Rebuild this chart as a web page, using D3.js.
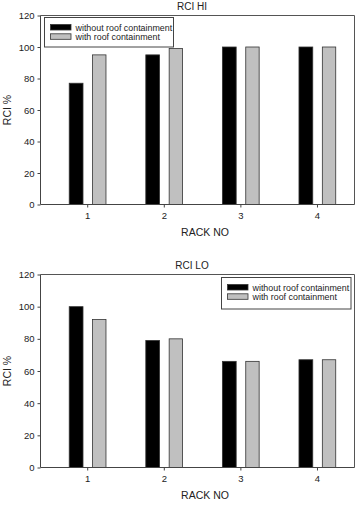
<!DOCTYPE html>
<html><head><meta charset="utf-8">
<script src="https://cdn.jsdelivr.net/npm/d3@7"></script>
<style>body{margin:0;background:#fff}svg{display:block}text{font-family:"Liberation Sans",Arial,sans-serif;fill:#222}</style>
</head><body>
<script>
const racks = [1, 2, 3, 4];
const seriesNames = ["without roof containment", "with roof containment"];
const hiWithout = [77, 95, 100, 100];
const hiWith = [95, 99, 100, 100];
const loWithout = [100, 79, 66, 67];
const loWith = [92, 80, 66, 67];
const yTicks = [0, 20, 40, 60, 80, 100, 120];
const colors = ["#000000", "#c0c0c0"];

const W = 356, H = 505;
const svg = d3.select("body").append("svg").attr("width", W).attr("height", H);

function panel(cfg) {
  const left = 40.5, right = 354.5, top = cfg.top, bottom = cfg.bottom;
  const x = d3.scaleLinear().domain([0.39, 4.49]).range([left, right]);
  const y = d3.scaleLinear().domain([0, 120]).range([bottom, top]);
  const g = svg.append("g");
  // frame top/right
  g.append("path").attr("d", `M${left},${top}H${right}V${bottom}`).attr("fill", "none").attr("stroke", "#555").attr("stroke-width", 1);
  // bars
  const off = [[-0.235, 0.18], [0.07, 0.175]];
  [cfg.a, cfg.b].forEach((vals, si) => {
    g.selectAll(null).data(racks).enter().append("rect")
      .attr("x", d => x(d + off[si][0]))
      .attr("width", d => x(d + off[si][0] + off[si][1]) - x(d + off[si][0]))
      .attr("y", (d, i) => y(vals[i]))
      .attr("height", (d, i) => y(0) - y(vals[i]))
      .attr("fill", colors[si]).attr("stroke", "#333").attr("stroke-width", 0.8);
  });
  // axes
  const ya = g.append("g").attr("transform", `translate(${left},0)`)
    .call(d3.axisLeft(y).tickValues(yTicks).tickSize(3).tickPadding(3));
  const xa = g.append("g").attr("transform", `translate(0,${bottom})`)
    .call(d3.axisBottom(x).tickValues(racks).tickSize(3).tickPadding(5).tickFormat(d3.format("d")));
  [ya, xa].forEach(a => {
    a.select(".domain").attr("stroke", "#444");
    a.selectAll(".tick line").attr("stroke", "#444");
    a.selectAll("text").style("font-size", "9.5px").attr("fill", "#222").style("font-family", '"Liberation Sans",Arial,sans-serif');
  });
  ya.select(".domain").attr("d", `M0,${bottom}V${top}`);
  xa.select(".domain").attr("d", `M${left},0H${right}`);
  // title
  g.append("text").attr("x", 192).attr("y", top - 6).attr("text-anchor", "middle").style("font-size", "10px").text(cfg.title);
  g.append("text").attr("x", 205).attr("y", bottom + 31).attr("text-anchor", "middle").style("font-size", "10.5px").text("RACK NO");
  g.append("text").attr("transform", `translate(11,${(top + bottom) / 2}) rotate(-90)`).attr("text-anchor", "middle").style("font-size", "10.5px").text("RCI %");
  // legend
  const L = cfg.legend;
  g.append("rect").attr("x", L.x).attr("y", L.y).attr("width", L.w).attr("height", L.h)
    .attr("fill", "#fff").attr("stroke", "#444").attr("stroke-width", 1);
  seriesNames.forEach((s, i) => {
    g.append("rect").attr("x", L.x + 6).attr("y", L.y + 7 + i * 9.3).attr("width", 20.5).attr("height", 5.5)
      .attr("fill", colors[i]).attr("stroke", "#333").attr("stroke-width", 0.8);
    g.append("text").attr("x", L.x + 31).attr("y", L.y + 13.3 + i * 9.3).style("font-size", "8.9px").text(s);
  });
}

panel({ top: 15.5, bottom: 204.5, title: "RCI HI", a: hiWithout, b: hiWith,
  legend: { x: 44.5, y: 17.5, w: 129, h: 29.5 } });
panel({ top: 274.5, bottom: 467.5, title: "RCI LO", a: loWithout, b: loWith,
  legend: { x: 221.5, y: 277.5, w: 129.5, h: 31.5 } });
</script>
</body></html>
